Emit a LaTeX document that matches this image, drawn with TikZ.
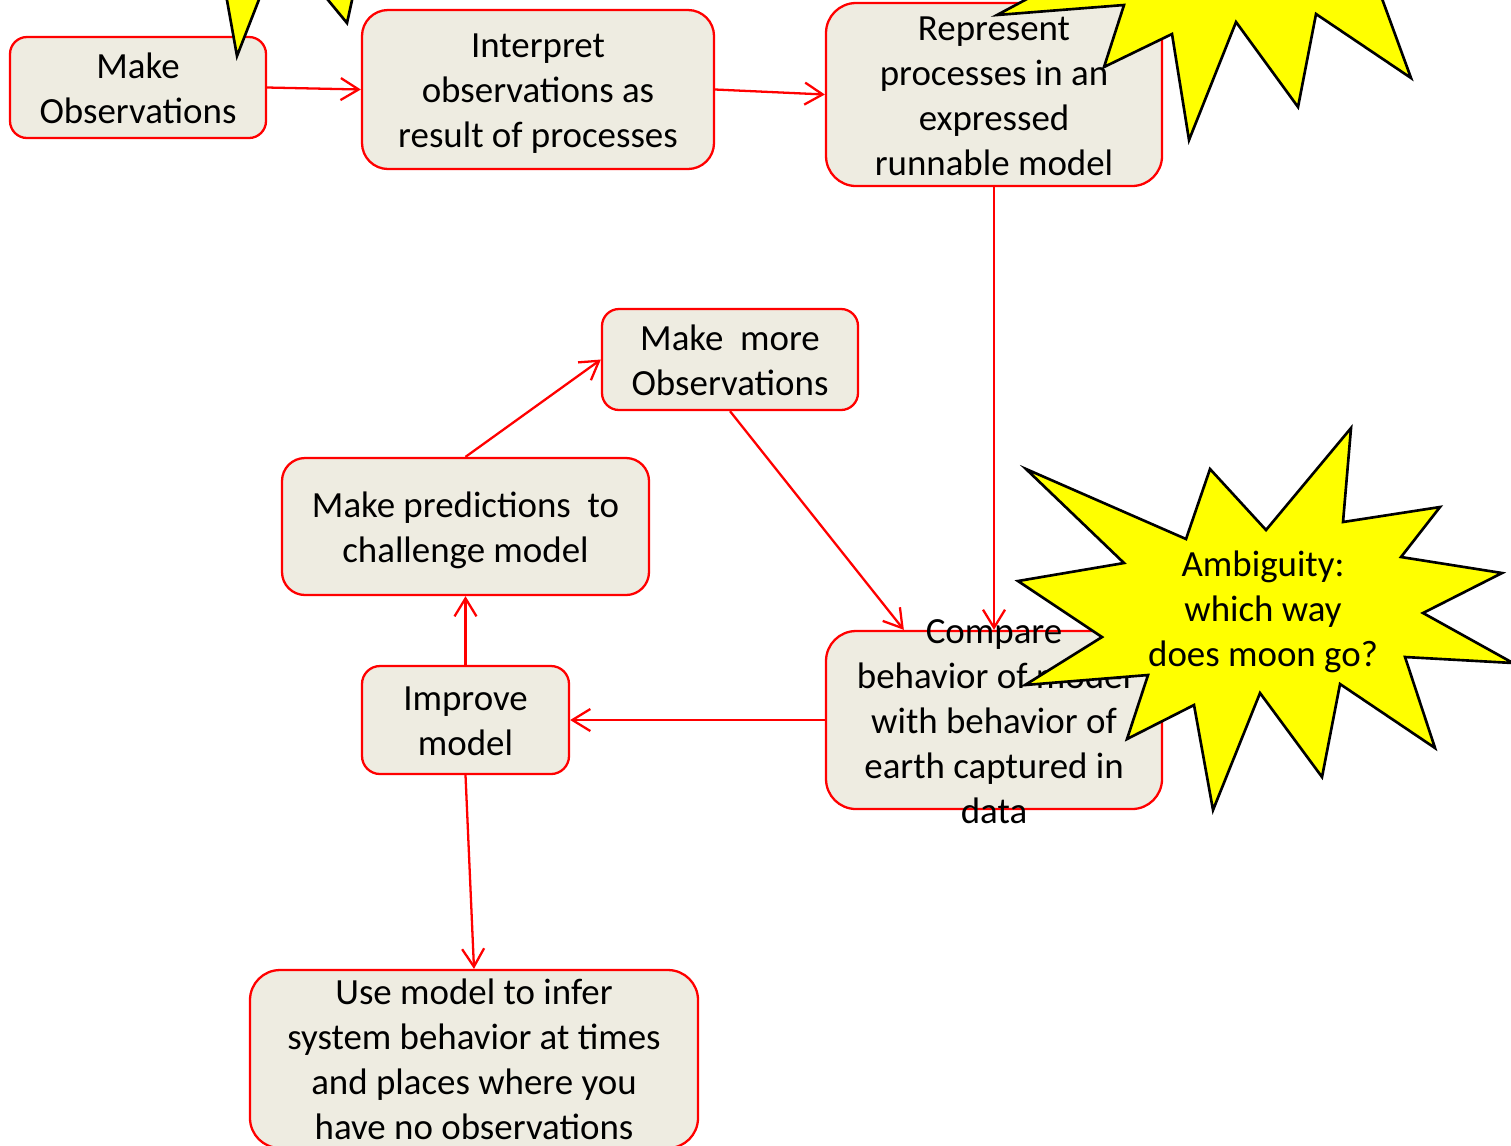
\documentclass[tikz,border=0pt]{standalone}
\usepackage{fontspec}
\setmainfont{Carlito}
\usepackage{tikz}
\usetikzlibrary{arrows.meta}
\definecolor{boxfill}{RGB}{238,236,225}
\definecolor{burstfill}{RGB}{255,255,0}

\begin{document}
\begin{tikzpicture}[yscale=-1,
    box/.style={draw=red, line width=0.65pt, fill=boxfill, inner sep=0pt, font=\fontsize{10.5}{12.8}\selectfont},
    link/.style={draw=red, line width=0.65pt, -{Straight Barb[length=1.8mm,width=2.2mm]}},
    burst/.style={draw=black, line width=0.75pt, fill=burstfill, line join=miter}]
    \def\boxlines#1{\smash{\raisebox{-4pt}{\begin{tabular}{@{}c@{}}#1\end{tabular}}}}
    \useasboundingbox (0,0) rectangle (15.11,11.45);
    \clip (0,0) rectangle (15.11,11.45);
    % the boxes
    \node[box, minimum width=2.56cm, minimum height=1.01cm, rounded corners=0.17cm] (obs) at (1.38,0.875) {\boxlines{Make\\Observations}};
    \node[box, minimum width=3.52cm, minimum height=1.59cm, rounded corners=0.26cm] (interp) at (5.38,0.895) {\boxlines{Interpret\\observations as\\result of processes}};
    \node[box, minimum width=3.36cm, minimum height=1.83cm, rounded corners=0.3cm] (repr) at (9.94,0.945) {\boxlines{Represent\\processes in an\\expressed\\runnable model}};
    \node[box, minimum width=2.56cm, minimum height=1.01cm, rounded corners=0.17cm] (more) at (7.30,3.595) {\boxlines{Make~ more\\Observations}};
    \node[box, minimum width=3.67cm, minimum height=1.37cm, rounded corners=0.23cm] (pred) at (4.655,5.265) {\boxlines{Make predictions~ to\\challenge model}};
    \node[box, minimum width=2.07cm, minimum height=1.08cm, rounded corners=0.18cm] (impr) at (4.655,7.20) {\boxlines{Improve\\model}};
    \node[box, minimum width=3.36cm, minimum height=1.78cm, rounded corners=0.3cm] (cmp) at (9.94,7.20) {\boxlines{Compare\\behavior of model\\with behavior of\\earth captured in\\data}};
    \node[box, minimum width=4.48cm, minimum height=1.78cm, rounded corners=0.3cm] (use) at (4.74,10.59) {\boxlines{Use model to infer\\system behavior at times\\and places where you\\have no observations}};
    % arrows
    \draw[link] (obs.east) -- (interp.west);
    \draw[link] (interp.east) -- (repr.west);
    \draw[link] (repr.south) -- (cmp.north);
    \draw[link] (more.south) -- (cmp.135);
    \draw[link] (cmp.west) -- (impr.east);
    \draw[link] (impr.north) -- (pred.south);
    \draw[link] (pred.north) -- (more.west);
    \draw[link] (impr.south) -- (use.north);
    % bursts
    \draw[burst] (2.09,-1) -- (2.37,0.56) -- (2.81,-0.57) -- (3.47,0.23) -- (3.74,-1) -- cycle;
    \draw[burst] (10.53,-0.15) -- (9.97,0.15) -- (11.24,0.05) -- (11.04,0.67) -- (11.72,0.34) -- (11.89,1.40)
        -- (12.36,0.22) -- (12.98,1.07) -- (13.16,0.14) -- (14.11,0.78) -- (13.77,-0.15) -- cycle;
    \draw[burst] (13.51,4.28) -- (13.43,5.22) -- (14.40,5.07) -- (14.01,5.57) -- (15.02,5.73) -- (14.23,6.13)
        -- (15.13,6.63) -- (14.05,6.57) -- (14.35,7.48) -- (13.40,6.84) -- (13.22,7.77) -- (12.60,6.93)
        -- (12.13,8.10) -- (11.94,7.05) -- (11.27,7.39) -- (11.48,6.75) -- (10.25,6.85) -- (11.02,6.37)
        -- (10.18,5.81) -- (11.24,5.63) -- (10.26,4.69) -- (11.86,5.39) -- (12.10,4.69) -- (12.66,5.30) -- cycle;
    \node[font=\fontsize{10.5}{12.8}\selectfont, inner sep=0pt] (amb) at (12.63,6.08) {\boxlines{Ambiguity:\\which way\\does moon go?}};
\end{tikzpicture}
\end{document}
